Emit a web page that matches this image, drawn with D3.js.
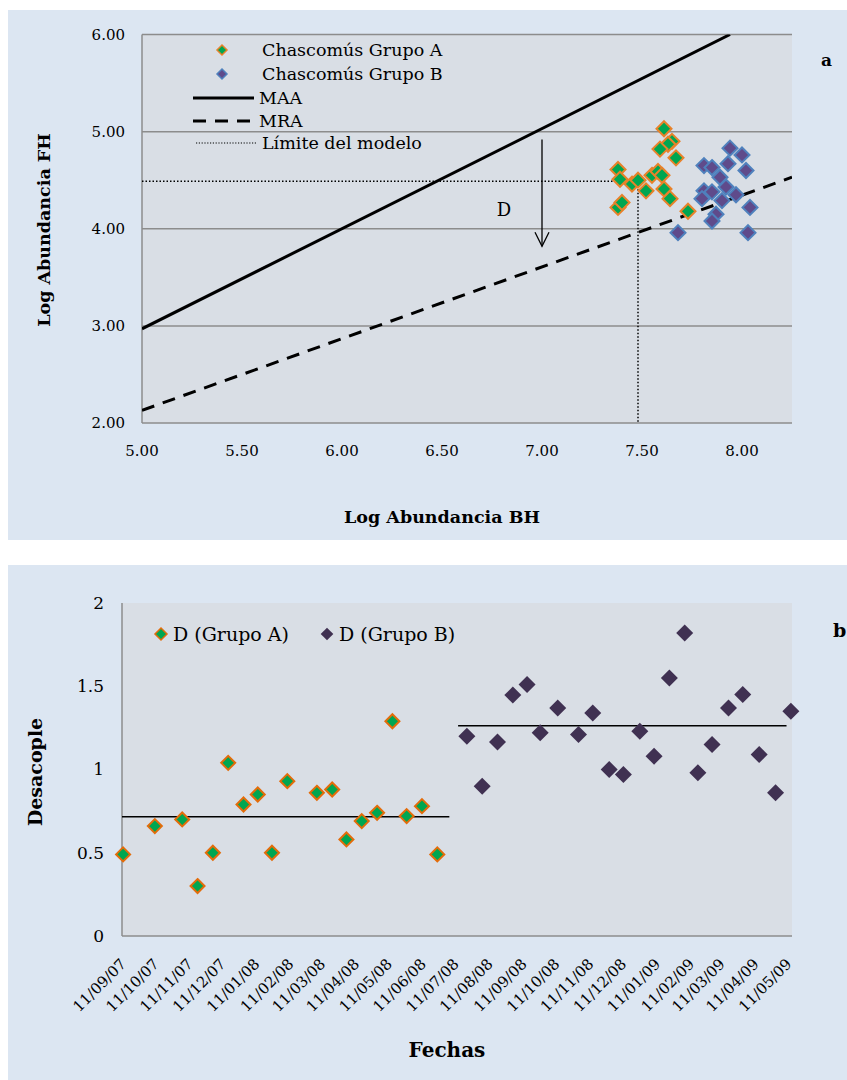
<!DOCTYPE html>
<html><head><meta charset="utf-8">
<script src="https://cdn.jsdelivr.net/npm/d3@7"></script>
<style>body{margin:0;background:#fff}svg{display:block}text{font-family:"DejaVu Serif",serif;fill:#000}</style>
</head><body><svg id="c" width="847" height="1080"></svg>
<script>
// ---- Panel a data ----
const groupA_BH = [7.61,7.65,7.63,7.59,7.67,7.38,7.39,7.45,7.48,7.52,7.55,7.58,7.60,7.61,7.64,7.38,7.40,7.73];
const groupA_FH = [5.03,4.90,4.87,4.82,4.73,4.61,4.51,4.46,4.50,4.39,4.55,4.59,4.55,4.41,4.31,4.22,4.27,4.18];
const groupB_BH = [7.94,8.00,7.81,7.85,7.93,8.02,7.89,7.92,7.81,7.85,7.97,7.90,7.80,8.04,7.87,7.85,7.68,8.03];
const groupB_FH = [4.83,4.76,4.65,4.63,4.67,4.60,4.53,4.43,4.39,4.38,4.35,4.29,4.31,4.22,4.15,4.08,3.96,3.96];
const maaBH = [5.00,7.94], maaFH = [2.97,6.00];
const mraBH = [5.00,8.25], mraFH = [2.13,4.53];
const limitBH = [5.00,7.48,7.48], limitFH = [4.49,4.49,2.00];
const arrowBH = [7.00,7.00], arrowFH = [4.92,3.82];
const ticksBH = [5.0,5.5,6.0,6.5,7.0,7.5,8.0];
const ticksFH = [2,3,4,5,6];
const legendA = ["Chascomús Grupo A","Chascomús Grupo B","MAA","MRA","Límite del modelo"];

// ---- Panel b data ----
const datesA = ["2007-09-12","2007-10-11","2007-11-05","2007-11-19","2007-12-03","2007-12-17","2007-12-31","2008-01-13","2008-01-26","2008-02-09","2008-03-07","2008-03-21","2008-04-03","2008-04-17","2008-05-01","2008-05-15","2008-05-28","2008-06-11","2008-06-25"];
const dA = [0.49,0.66,0.70,0.30,0.50,1.04,0.79,0.85,0.50,0.93,0.86,0.88,0.58,0.69,0.74,1.29,0.72,0.78,0.49];
const datesB = ["2008-07-22","2008-08-05","2008-08-19","2008-09-02","2008-09-15","2008-09-27","2008-10-13","2008-11-01","2008-11-14","2008-11-29","2008-12-12","2008-12-27","2009-01-09","2009-01-23","2009-02-06","2009-02-18","2009-03-03","2009-03-18","2009-03-31","2009-04-15","2009-04-30","2009-05-14"];
const dB = [1.20,0.90,1.165,1.447,1.51,1.22,1.37,1.21,1.34,1.00,0.97,1.23,1.08,1.55,1.82,0.98,1.15,1.37,1.45,1.09,0.86,1.35];
const meanADates = ["2007-09-11","2008-07-06"], meanA = 0.716;
const meanBDates = ["2008-07-14","2009-05-10"], meanB = 1.263;
const monthTicks = ["11/09/07","11/10/07","11/11/07","11/12/07","11/01/08","11/02/08","11/03/08","11/04/08","11/05/08","11/06/08","11/07/08","11/08/08","11/09/08","11/10/08","11/11/08","11/12/08","11/01/09","11/02/09","11/03/09","11/04/09","11/05/09"];
const ticksD = [0,0.5,1,1.5,2];
const tickDLabels = ["0","0.5","1","1.5","2"];
const legendB = ["D (Grupo A)","D (Grupo B)"];

const svg = d3.select("#c");
const panelBg = "#DCE6F2", plotBg = "#D9DEE5", grid = "#8C8C8C";
const green = "#00A651", orange = "#E8822A", purpleA = "#5F4B8B", blueA = "#4F81BD", purpleB = "#403152", orangeB = "#E36C0A";
const diamond = r => `M0,${-r}L${r},0L0,${r}L${-r},0Z`;

// ===== Panel a =====
svg.append("rect").attr("x",8).attr("y",10).attr("width",839).attr("height",530).attr("fill",panelBg);
const xa = d3.scaleLinear([5,8.25],[142,792]);
const ya = d3.scaleLinear([2,6],[423,34.5]);
const ga = svg.append("g");
ga.append("rect").attr("x",xa(5)).attr("y",ya(6)).attr("width",xa(8.25)-xa(5)).attr("height",ya(2)-ya(6)).attr("fill",plotBg);
ga.selectAll(".gl").data(ticksFH.slice(1)).join("line").attr("x1",xa(5)).attr("x2",xa(8.25))
  .attr("y1",d=>ya(d)).attr("y2",d=>ya(d)).attr("stroke",grid).attr("stroke-width",1.5);
ga.append("line").attr("x1",xa(5)).attr("x2",xa(8.25)).attr("y1",ya(2)).attr("y2",ya(2)).attr("stroke",grid).attr("stroke-width",1.5);
ga.append("line").attr("x1",xa(5)).attr("x2",xa(5)).attr("y1",ya(2)).attr("y2",ya(6)).attr("stroke",grid).attr("stroke-width",1.5);
ga.selectAll(".yt").data(ticksFH).join("text").attr("x",125).attr("y",d=>ya(d)).attr("dy","0.35em")
  .attr("text-anchor","end").attr("font-size",15).text(d=>d.toFixed(2));
ga.selectAll(".xt").data(ticksBH).join("text").attr("x",d=>xa(d)).attr("y",456)
  .attr("text-anchor","middle").attr("font-size",15).text(d=>d.toFixed(2));
ga.append("text").attr("x",442).attr("y",523).attr("text-anchor","middle").attr("font-size",17.5).attr("font-weight","bold").text("Log Abundancia  BH");
ga.append("text").attr("transform","translate(50,230) rotate(-90)").attr("text-anchor","middle").attr("font-size",17.5).attr("font-weight","bold").text("Log Abundancia  FH");
ga.append("text").attr("x",821).attr("y",66).attr("font-size",17).attr("font-weight","bold").text("a");

svg.append("clipPath").attr("id","clipA").append("rect").attr("x",xa(5)).attr("y",ya(6)).attr("width",xa(8.25)-xa(5)).attr("height",ya(2)-ya(6));
const line = d3.line();
ga.append("path").attr("d",line(maaBH.map((v,i)=>[xa(v),ya(maaFH[i])]))).attr("stroke","#000").attr("stroke-width",3).attr("fill","none").attr("clip-path","url(#clipA)");
ga.append("path").attr("d",line(mraBH.map((v,i)=>[xa(v),ya(mraFH[i])]))).attr("stroke","#000").attr("stroke-width",3).attr("stroke-dasharray","13,9").attr("fill","none").attr("clip-path","url(#clipA)");
ga.append("path").attr("d",line(limitBH.map((v,i)=>[xa(v),ya(limitFH[i])]))).attr("stroke","#000").attr("stroke-width",1.5).attr("stroke-dasharray","1.5,2").attr("fill","none");
// arrow
const ax = xa(arrowBH[0]), ay1 = ya(arrowFH[0]), ay2 = ya(arrowFH[1]);
ga.append("line").attr("x1",ax).attr("x2",ax).attr("y1",ay1).attr("y2",ay2).attr("stroke","#000").attr("stroke-width",1.3);
ga.append("path").attr("d",`M${ax-7},${ay2-14}L${ax},${ay2}L${ax+7},${ay2-14}`).attr("stroke","#000").attr("stroke-width",1.3).attr("fill","none");
ga.append("text").attr("x",xa(6.81)).attr("y",ya(4.2)).attr("dy","0.35em").attr("text-anchor","middle").attr("font-size",18).text("D");

// points
ga.selectAll(".pa").data(groupA_BH).join("path").attr("d",diamond(7.5))
  .attr("transform",(d,i)=>`translate(${xa(d)},${ya(groupA_FH[i])})`).attr("fill",green).attr("stroke",orange).attr("stroke-width",2);
ga.selectAll(".pb").data(groupB_BH).join("path").attr("d",diamond(7.5))
  .attr("transform",(d,i)=>`translate(${xa(d)},${ya(groupB_FH[i])})`).attr("fill",purpleA).attr("stroke",blueA).attr("stroke-width",2);

// legend a
const lgY = [50,74,98,121,143];
const lg = ga.append("g");
lg.append("path").attr("d",diamond(5)).attr("transform",`translate(222,${lgY[0]})`).attr("fill",green).attr("stroke",orange).attr("stroke-width",1.5);
lg.append("path").attr("d",diamond(5)).attr("transform",`translate(222,${lgY[1]})`).attr("fill",purpleA).attr("stroke",blueA).attr("stroke-width",1.5);
lg.append("line").attr("x1",193).attr("x2",254).attr("y1",lgY[2]).attr("y2",lgY[2]).attr("stroke","#000").attr("stroke-width",3);
lg.append("line").attr("x1",193).attr("x2",254).attr("y1",lgY[3]).attr("y2",lgY[3]).attr("stroke","#000").attr("stroke-width",3).attr("stroke-dasharray","13,9");
lg.append("line").attr("x1",196).attr("x2",256).attr("y1",lgY[4]).attr("y2",lgY[4]).attr("stroke","#000").attr("stroke-width",1.2).attr("stroke-dasharray","1.2,1.6");
lg.selectAll("text").data(legendA).join("text").attr("x",(d,i)=>i>=2&&i<4?259:262).attr("y",(d,i)=>lgY[i]).attr("dy","0.35em").attr("font-size",17.5).text(d=>d);

// ===== Panel b =====
svg.append("rect").attr("x",8).attr("y",565).attr("width",839).attr("height",515).attr("fill",panelBg);
const parse = d3.utcParse("%Y-%m-%d");
const xb = d3.scaleUtc([parse("2007-09-11"),parse("2009-05-15")],[122,792]);
const yb = d3.scaleLinear([0,2],[936,603]);
const gb = svg.append("g");
gb.append("rect").attr("x",122).attr("y",603).attr("width",670).attr("height",333).attr("fill",plotBg);
gb.append("line").attr("x1",122).attr("x2",792).attr("y1",yb(0)).attr("y2",yb(0)).attr("stroke",grid).attr("stroke-width",1.5);
gb.append("line").attr("x1",122).attr("x2",122).attr("y1",yb(0)).attr("y2",yb(2)).attr("stroke",grid).attr("stroke-width",1.5);
gb.selectAll(".yt").data(ticksD).join("text").attr("x",104).attr("y",d=>yb(d)).attr("dy","0.35em")
  .attr("text-anchor","end").attr("font-size",17).text((d,i)=>tickDLabels[i]);
const parseTick = d3.utcParse("%d/%m/%y");
gb.selectAll(".xt").data(monthTicks).join("text")
  .attr("transform",d=>`translate(${xb(parseTick(d))+5},${965}) rotate(-45)`)
  .attr("text-anchor","end").attr("font-size",15).text(d=>d);
gb.append("text").attr("x",447).attr("y",1057).attr("text-anchor","middle").attr("font-size",20).attr("font-weight","bold").text("Fechas");
gb.append("text").attr("transform","translate(42,772) rotate(-90)").attr("text-anchor","middle").attr("font-size",19).attr("font-weight","bold").text("Desacople");
gb.append("text").attr("x",833).attr("y",637).attr("font-size",19).attr("font-weight","bold").text("b");

gb.append("line").attr("x1",xb(parse(meanADates[0]))).attr("x2",xb(parse(meanADates[1]))).attr("y1",yb(meanA)).attr("y2",yb(meanA)).attr("stroke","#000").attr("stroke-width",1.5);
gb.append("line").attr("x1",xb(parse(meanBDates[0]))).attr("x2",xb(parse(meanBDates[1]))).attr("y1",yb(meanB)).attr("y2",yb(meanB)).attr("stroke","#000").attr("stroke-width",1.5);

gb.selectAll(".da").data(datesA).join("path").attr("d",diamond(7))
  .attr("transform",(d,i)=>`translate(${xb(parse(d))},${yb(dA[i])})`).attr("fill",green).attr("stroke",orangeB).attr("stroke-width",2);
gb.selectAll(".db").data(datesB).join("path").attr("d",diamond(8.5))
  .attr("transform",(d,i)=>`translate(${xb(parse(d))},${yb(dB[i])})`).attr("fill",purpleB);

// legend b
gb.append("path").attr("d",diamond(6)).attr("transform","translate(161,634)").attr("fill",green).attr("stroke",orangeB).attr("stroke-width",1.5);
gb.append("path").attr("d",diamond(6.3)).attr("transform","translate(327,634)").attr("fill",purpleB);
gb.selectAll(".lt").data(legendB).join("text").attr("x",(d,i)=>i?339:173).attr("y",634).attr("dy","0.35em").attr("font-size",19).text(d=>d);
</script></body></html>
